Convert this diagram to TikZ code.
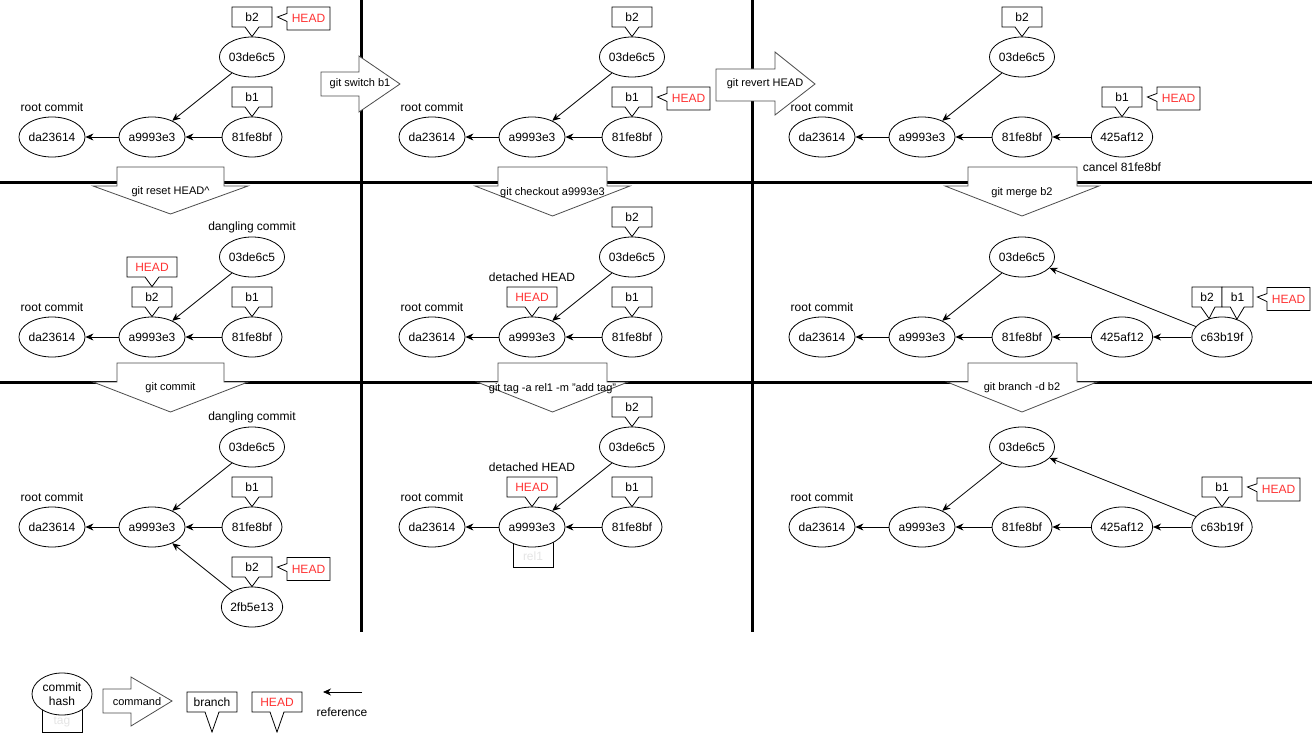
\documentclass[tikz,border=0pt]{standalone}
\usepackage{fontspec}
\setmainfont{Liberation Sans}
\usetikzlibrary{
    arrows.meta,
    shapes.geometric,
    shapes.callouts
}
\definecolor{headred}{RGB}{255,51,51}

\begin{document}
\begin{tikzpicture}[x=1pt, y=-1pt,
    font=\fontsize{12}{14}\selectfont,
    commit/.style={draw, ellipse, fill=white, line width=0.8pt, minimum width=60pt, minimum height=40pt, inner sep=0pt},
    branch/.style={draw, rectangle callout, fill=white, line width=0.8pt, minimum width=40pt, minimum height=20pt, inner sep=0pt, callout pointer width=14pt},
    headbox/.style={branch, minimum width=50pt, text=headred},
    headtag/.style={draw, rectangle callout, fill=white, line width=0.8pt, minimum width=43pt, minimum height=23pt, inner sep=0pt, callout pointer width=8pt, text=headred},
    tagbox/.style={draw, fill=white, line width=0.8pt, minimum width=40pt, minimum height=28pt, inner sep=0pt},
    tagtext/.style={text=black!10, inner sep=1pt},
    refline/.style={line width=0.8pt, -{Stealth[length=8pt,width=7pt]}},
    cmd/.style={draw=black!70, fill=white, line width=0.8pt},
    cmdtext/.style={font=\fontsize{11}{13}\selectfont, inner sep=1pt},
    divider/.style={line width=3.5pt},
    note/.style={inner sep=1pt}
]

\useasboundingbox (0,0) rectangle (1315,733);

% Panel dividers
\draw[divider] (361.5,0) -- (361.5,632);
\draw[divider] (752.5,0) -- (752.5,632);
\draw[divider] (0,182.5) -- (1312,182.5);
\draw[divider] (0,382.5) -- (1312,382.5);

% Panel a: start
\node[note] (root-a) at (52,107) {root commit};
\node[commit] (da-a) at (52,137) {da23614};
\node[commit] (a9-a) at (152,137) {a9993e3};
\node[commit] (f8-a) at (252,137) {81fe8bf};
\node[commit] (de-a) at (252,57) {03de6c5};
\node[branch, callout absolute pointer={(de-a.north)}] (b2-a) at (252,17) {b2};
\node[headtag, callout absolute pointer={([xshift=5pt]b2-a.east)}] (hd-a) at (308.5,18.5) {HEAD};
\node[branch, callout absolute pointer={(f8-a.north)}] (b1-a) at (252,97) {b1};
\draw[refline] (a9-a) -- (da-a);
\draw[refline] (f8-a) -- (a9-a);
\draw[refline] (de-a) -- (a9-a);

% Panel b: git switch b1
\node[note] (root-b) at (432,107) {root commit};
\node[commit] (da-b) at (432,137) {da23614};
\node[commit] (a9-b) at (532,137) {a9993e3};
\node[commit] (f8-b) at (632,137) {81fe8bf};
\node[commit] (de-b) at (632,57) {03de6c5};
\node[branch, callout absolute pointer={(de-b.north)}] (b2-b) at (632,17) {b2};
\node[branch, callout absolute pointer={(f8-b.north)}] (b1-b) at (632,97) {b1};
\node[headtag, callout absolute pointer={([xshift=5pt]b1-b.east)}] (hd-b) at (688.5,98.5) {HEAD};
\draw[refline] (a9-b) -- (da-b);
\draw[refline] (f8-b) -- (a9-b);
\draw[refline] (de-b) -- (a9-b);

% Panel c: git revert HEAD
\node[note] (root-c) at (822,107) {root commit};
\node[commit] (da-c) at (822,137) {da23614};
\node[commit] (a9-c) at (922,137) {a9993e3};
\node[commit] (f8-c) at (1022,137) {81fe8bf};
\node[commit] (af-c) at (1122,137) {425af12};
\node[commit] (de-c) at (1022,57) {03de6c5};
\node[note] (cancel-c) at (1122,167) {cancel 81fe8bf};
\node[branch, callout absolute pointer={(de-c.north)}] (b2-c) at (1022,17) {b2};
\node[branch, callout absolute pointer={(af-c.north)}] (b1-c) at (1122,97) {b1};
\node[headtag, callout absolute pointer={([xshift=5pt]b1-c.east)}] (hd-c) at (1178.5,98.5) {HEAD};
\draw[refline] (a9-c) -- (da-c);
\draw[refline] (f8-c) -- (a9-c);
\draw[refline] (af-c) -- (f8-c);
\draw[refline] (de-c) -- (a9-c);

% Panel d: git reset HEAD^
\node[note] (root-d) at (52,307) {root commit};
\node[note] (dangl-d) at (252,227) {dangling commit};
\node[commit] (da-d) at (52,337) {da23614};
\node[commit] (a9-d) at (152,337) {a9993e3};
\node[commit] (f8-d) at (252,337) {81fe8bf};
\node[commit] (de-d) at (252,257) {03de6c5};
\node[branch, callout absolute pointer={(a9-d.north)}] (b2-d) at (152,297) {b2};
\node[headbox, callout absolute pointer={(b2-d.north)}] (hd-d) at (152,267) {HEAD};
\node[branch, callout absolute pointer={(f8-d.north)}] (b1-d) at (252,297) {b1};
\draw[refline] (a9-d) -- (da-d);
\draw[refline] (f8-d) -- (a9-d);
\draw[refline] (de-d) -- (a9-d);

% Panel e: git checkout a9993e3
\node[note] (root-e) at (432,307) {root commit};
\node[note] (detach-e) at (532,277) {detached HEAD};
\node[commit] (da-e) at (432,337) {da23614};
\node[commit] (a9-e) at (532,337) {a9993e3};
\node[commit] (f8-e) at (632,337) {81fe8bf};
\node[commit] (de-e) at (632,257) {03de6c5};
\node[branch, callout absolute pointer={(de-e.north)}] (b2-e) at (632,217) {b2};
\node[headbox, callout absolute pointer={(a9-e.north)}] (hd-e) at (532,297) {HEAD};
\node[branch, callout absolute pointer={(f8-e.north)}] (b1-e) at (632,297) {b1};
\draw[refline] (a9-e) -- (da-e);
\draw[refline] (f8-e) -- (a9-e);
\draw[refline] (de-e) -- (a9-e);

% Panel f: git merge b2
\node[note] (root-f) at (822,307) {root commit};
\node[commit] (da-f) at (822,337) {da23614};
\node[commit] (a9-f) at (922,337) {a9993e3};
\node[commit] (f8-f) at (1022,337) {81fe8bf};
\node[commit] (af-f) at (1122,337) {425af12};
\node[commit] (c6-f) at (1222,337) {c63b19f};
\node[commit] (de-f) at (1022,257) {03de6c5};
\node[branch, minimum width=30pt, callout absolute pointer={(c6-f.125)}] (b2-f) at (1207,297) {b2};
\node[branch, minimum width=31pt, callout absolute pointer={(c6-f.50)}] (b1-f) at (1237.5,297) {b1};
\node[headtag, callout absolute pointer={([xshift=4pt]b1-f.east)}] (hd-f) at (1288.5,299) {HEAD};
\draw[refline] (a9-f) -- (da-f);
\draw[refline] (f8-f) -- (a9-f);
\draw[refline] (af-f) -- (f8-f);
\draw[refline] (c6-f) -- (af-f);
\draw[refline] (c6-f) -- (de-f);
\draw[refline] (de-f) -- (a9-f);

% Panel g: git commit
\node[note] (root-g) at (52,497) {root commit};
\node[note] (dangl-g) at (252,417) {dangling commit};
\node[commit] (da-g) at (52,527) {da23614};
\node[commit] (a9-g) at (152,527) {a9993e3};
\node[commit] (f8-g) at (252,527) {81fe8bf};
\node[commit] (de-g) at (252,447) {03de6c5};
\node[commit] (fb-g) at (252,607) {2fb5e13};
\node[branch, callout absolute pointer={(f8-g.north)}] (b1-g) at (252,487) {b1};
\node[branch, callout absolute pointer={(fb-g.north)}] (b2-g) at (252,567) {b2};
\node[headtag, callout absolute pointer={([xshift=5pt]b2-g.east)}] (hd-g) at (308.5,569) {HEAD};
\draw[refline] (a9-g) -- (da-g);
\draw[refline] (f8-g) -- (a9-g);
\draw[refline] (de-g) -- (a9-g);
\draw[refline] (fb-g) -- (a9-g);

% Panel h: git tag
\node[note] (root-h) at (432,497) {root commit};
\node[note] (detach-h) at (532,467) {detached HEAD};
\node[tagbox] (tag-h) at (533,553) {};
\node[tagtext] (rel-h) at (533,556) {rel1};
\node[commit] (da-h) at (432,527) {da23614};
\node[commit] (a9-h) at (532,527) {a9993e3};
\node[commit] (f8-h) at (632,527) {81fe8bf};
\node[commit] (de-h) at (632,447) {03de6c5};
\node[branch, callout absolute pointer={(de-h.north)}] (b2-h) at (632,407) {b2};
\node[headbox, callout absolute pointer={(a9-h.north)}] (hd-h) at (532,487) {HEAD};
\node[branch, callout absolute pointer={(f8-h.north)}] (b1-h) at (632,487) {b1};
\draw[refline] (a9-h) -- (da-h);
\draw[refline] (f8-h) -- (a9-h);
\draw[refline] (de-h) -- (a9-h);

% Panel i: git branch -d b2
\node[note] (root-i) at (822,497) {root commit};
\node[commit] (da-i) at (822,527) {da23614};
\node[commit] (a9-i) at (922,527) {a9993e3};
\node[commit] (f8-i) at (1022,527) {81fe8bf};
\node[commit] (af-i) at (1122,527) {425af12};
\node[commit] (c6-i) at (1222,527) {c63b19f};
\node[commit] (de-i) at (1022,447) {03de6c5};
\node[branch, callout absolute pointer={(c6-i.north)}] (b1-i) at (1222,487) {b1};
\node[headtag, callout absolute pointer={([xshift=5pt]b1-i.east)}] (hd-i) at (1278.5,489.5) {HEAD};
\draw[refline] (a9-i) -- (da-i);
\draw[refline] (f8-i) -- (a9-i);
\draw[refline] (af-i) -- (f8-i);
\draw[refline] (c6-i) -- (af-i);
\draw[refline] (c6-i) -- (de-i);
\draw[refline] (de-i) -- (a9-i);

% Commands, right
\draw[cmd] (321,72) -- (359,72) -- (359,56) -- (400,84) -- (359,112) -- (359,96) -- (321,96) -- cycle;
\node[cmdtext] (cmd-sw) at (360,84) {git switch b1};
\draw[cmd] (716,69) -- (775,69) -- (775,52) -- (815,84) -- (775,115) -- (775,101) -- (716,101) -- cycle;
\node[cmdtext] (cmd-rv) at (765,84) {git revert HEAD};

% Commands, down
\draw[cmd] (117,167) -- (224,167) -- (224,186) -- (248,186) -- (170.5,214) -- (93,186) -- (117,186) -- cycle;
\node[cmdtext] (cmd-rs) at (170.5,192) {git reset HEAD\textasciicircum};
\draw[cmd] (498,167) -- (607,167) -- (607,186) -- (630,186) -- (552.5,216) -- (475,186) -- (498,186) -- cycle;
\node[cmdtext] (cmd-co) at (552.5,193) {git checkout a9993e3};
\draw[cmd] (968,167) -- (1077,167) -- (1077,186) -- (1099,186) -- (1022,216) -- (945,186) -- (968,186) -- cycle;
\node[cmdtext] (cmd-mg) at (1022,193) {git merge b2};
\draw[cmd] (117,363) -- (224,363) -- (224,382) -- (248,382) -- (170.5,412) -- (93,382) -- (117,382) -- cycle;
\node[cmdtext] (cmd-cm) at (170.5,388) {git commit};
\draw[cmd] (498,363) -- (607,363) -- (607,382) -- (628,382) -- (552.5,412) -- (477,382) -- (498,382) -- cycle;
\node[cmdtext] (cmd-tg) at (552.5,389) {git tag -a rel1 -m "add tag"};
\draw[cmd] (968,363) -- (1077,363) -- (1077,382) -- (1097,382) -- (1022,412) -- (947,382) -- (968,382) -- cycle;
\node[cmdtext] (cmd-bd) at (1022,388) {git branch -d b2};

% Legend
\node[tagbox, minimum height=26pt] (tag-l) at (62,719) {};
\node[tagtext] (tagt-l) at (62,722) {tag};
\node[commit, minimum height=42pt, align=center] (cm-l) at (62,694) {commit\\hash};
\draw[cmd] (103,689) -- (131,689) -- (131,677) -- (172,701) -- (131,726) -- (131,713) -- (103,713) -- cycle;
\node[cmdtext] (cmd-l) at (137,702) {command};
\node[branch, minimum width=50pt, callout relative pointer={(0pt,-20pt)}] (br-l) at (212,702) {branch};
\node[headbox, callout relative pointer={(0pt,-20pt)}] (hd-l) at (277,702) {HEAD};
\coordinate (rs-l) at (362,692);
\coordinate (re-l) at (323,692);
\draw[refline] (rs-l) -- (re-l);
\node[note] (rf-l) at (342,712) {reference};

\end{tikzpicture}
\end{document}
